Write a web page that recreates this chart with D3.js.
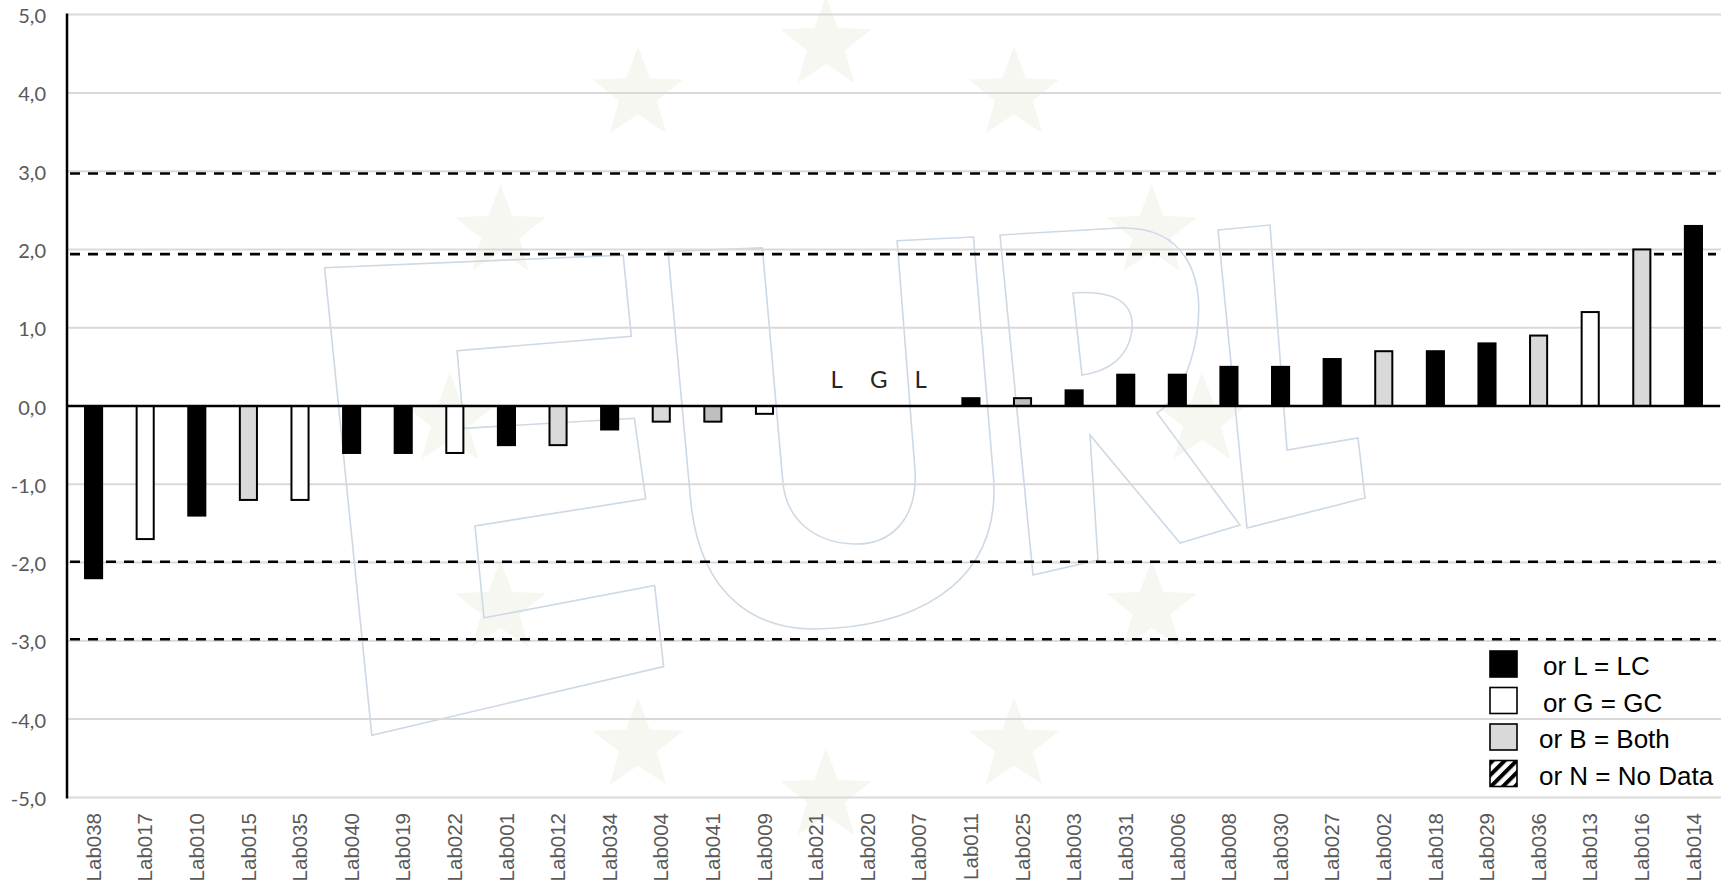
<!DOCTYPE html>
<html>
<head>
<meta charset="utf-8">
<script src="https://cdn.jsdelivr.net/npm/d3@7"></script>
<style>
  html, body { margin: 0; padding: 0; background: #ffffff; }
  svg { display: block; }
</style>
</head>
<body>
<div id="chart"></div>
<script>
// ---------------- DATA ----------------
const labs = ["Lab038","Lab017","Lab010","Lab015","Lab035","Lab040","Lab019","Lab022","Lab001","Lab012",
              "Lab034","Lab004","Lab041","Lab009","Lab021","Lab020","Lab007","Lab011","Lab025","Lab003",
              "Lab031","Lab006","Lab008","Lab030","Lab027","Lab002","Lab018","Lab029","Lab036","Lab013",
              "Lab016","Lab014"];
const zScores = [-2.2,-1.7,-1.4,-1.2,-1.2,-0.6,-0.6,-0.6,-0.5,-0.5,
                 -0.3,-0.2,-0.2,-0.1,null,null,null,0.1,0.1,0.2,
                 0.4,0.4,0.5,0.5,0.6,0.7,0.7,0.8,0.9,1.2,
                 2.0,2.3];
const methods = ["L","G","L","B","G","L","L","G","L","B",
                 "L","B","B","G","L","G","L","L","B","L",
                 "L","L","L","L","L","B","L","L","B","G",
                 "B","L"];
const yTicks = [-5,-4,-3,-2,-1,0,1,2,3,4,5];
const limitLines = [2.97, 1.94, -1.99, -2.98];
const legendCodes = ["L","G","B","N"];
const legendLabels = ["or L = LC","or G = GC","or B = Both","or N = No Data"];

// ---------------- STYLE ----------------
const W = 1733, H = 885;
const fillFor = {L:"#000000", G:"#ffffff", B:"#d9d9d9", N:"url(#hatch)"};
const altShade = new Set(["Lab041","Lab025"]);   // slightly darker grey in the original

const svg = d3.select("#chart").append("svg")
  .attr("width", W).attr("height", H)
  .attr("viewBox", `0 0 ${W} ${H}`);

const defs = svg.append("defs");
const pat = defs.append("pattern").attr("id","hatch")
  .attr("patternUnits","userSpaceOnUse").attr("width",8.5).attr("height",8.5)
  .attr("patternTransform","rotate(45)");
pat.append("rect").attr("width",8.5).attr("height",8.5).attr("fill","#fff");
pat.append("rect").attr("width",4).attr("height",8.5).attr("fill","#000");

svg.append("rect").attr("width",W).attr("height",H).attr("fill","#fff");

const y = d3.scaleLinear().domain([-5,5]).range([797.4, 14.6]);
const x = d3.scaleBand().domain(labs).range([67,1720]).paddingInner(0.63).paddingOuter(0.33);
const xc = l => x(l) + x.bandwidth()/2;

// ---------------- WATERMARK (background image of the original) ----------------
const wm = svg.append("g").attr("class","watermark");
function starPath(cx, cy, R, r) {
  const pts = [];
  for (let i = 0; i < 10; i++) {
    const a = -Math.PI/2 + i*Math.PI/5;
    const rad = i % 2 === 0 ? R : r;
    pts.push([cx + rad*Math.cos(a), cy + rad*Math.sin(a)]);
  }
  return "M" + pts.map(p => p.join(",")).join("L") + "Z";
}
const starCx = 826, starCy = 420, starRing = 376;
d3.range(12).forEach(i => {
  const a = i * Math.PI/6;
  wm.append("path")
    .attr("d", starPath(starCx + starRing*Math.sin(a), starCy - starRing*Math.cos(a), 48, 20))
    .attr("fill", "#f7f7f2");
});
const letterPaths = [
  // E
  "M324.6,267.7 L623.2,255.1 L631.3,336.3 L457.1,350.8 L463.8,428.4 L634.4,418.3 L645.7,498.8 L475,525.9 L484,617.9 L654.6,585.4 L663.6,666.6 L371.8,735.2 Z",
  // U
  "M668,251.5 L690.6,500 C700,600 760,630 816,629 C905,628 1000,590 993.7,480 L973.5,237 L897.1,240.7 L915,470 C918,520 890,545 854.5,544 C815,543 785,520 782.6,479 L762.4,247.9 Z",
  // R
  "M1000,235 L1120,228 C1185,226 1205,275 1197,333 C1190,380 1170,405 1157,413 L1240,525 L1180,543 L1090,435 L1098,560 L1033,575 Z M1073,293 C1110,290 1135,300 1132,330 C1128,360 1105,372 1082,375 Z",
  // L
  "M1218,230 L1270,225 L1287,450 L1358,438 L1365,498 L1247,528 Z"
];
letterPaths.forEach(d => wm.append("path").attr("d", d)
  .attr("fill","none").attr("stroke","#cdd9e5").attr("stroke-width",1.6));

// ---------------- GRID ----------------
svg.append("g").selectAll("line").data(yTicks).join("line")
  .attr("x1", 67).attr("x2", 1721)
  .attr("y1", d => y(d)).attr("y2", d => y(d))
  .attr("stroke", "#d9d9d9").attr("stroke-width", 2);

// ---------------- LIMIT LINES ----------------
svg.append("g").selectAll("line").data(limitLines).join("line")
  .attr("x1", 70).attr("x2", 1716)
  .attr("y1", d => y(d)).attr("y2", d => y(d))
  .attr("stroke", "#000").attr("stroke-width", 2.6)
  .attr("stroke-dasharray", "10,8");

// ---------------- BARS ----------------
const barData = labs.map((l,i) => ({lab:l, v:zScores[i], m:methods[i]}));
svg.append("g").selectAll("rect").data(barData.filter(d => d.v !== null)).join("rect")
  .attr("x", d => x(d.lab) + 1)
  .attr("width", x.bandwidth() - 2)
  .attr("y", d => Math.min(y(d.v), y(0)))
  .attr("height", d => Math.abs(y(d.v) - y(0)))
  .attr("fill", d => (d.m === "B" && altShade.has(d.lab)) ? "#bfbfbf" : fillFor[d.m])
  .attr("stroke", "#000").attr("stroke-width", 2);

// method letters for labs without a score
const noData = barData.filter(d => d.v === null);
const midX = xc(noData[1].lab) + 11;
svg.append("g").selectAll("text").data(noData).join("text")
  .attr("x", (d,i) => midX + (i-1)*42)
  .attr("y", y(0) - 18)
  .attr("text-anchor","middle")
  .attr("font-family","Lato, 'Open Sans', sans-serif")
  .attr("font-size", 24)
  .attr("fill","#262626")
  .text(d => d.m);

// ---------------- AXES ----------------
svg.append("line").attr("x1",67).attr("x2",1720).attr("y1",y(0)).attr("y2",y(0))
  .attr("stroke","#000").attr("stroke-width",2.5);
svg.append("line").attr("x1",67).attr("x2",67).attr("y1",y(5)-1).attr("y2",y(-5)+1)
  .attr("stroke","#000").attr("stroke-width",2.5);

const fmt = d3.format(".1f");
const yAxis = d3.axisLeft(y).tickValues(yTicks).tickSize(0).tickPadding(0)
  .tickFormat(d => fmt(d).replace(".", ",").replace("−","-"));
const gy = svg.append("g").attr("transform","translate(46,0)").call(yAxis);
gy.select(".domain").remove();
gy.selectAll("text")
  .attr("font-family","Lato, 'Open Sans', sans-serif")
  .attr("font-size", 20)
  .attr("fill","#595959")
  .attr("dy","0.4em");

const xAxis = d3.axisBottom(x).tickSize(0).tickPadding(0);
const gx = svg.append("g").attr("transform","translate(0,813)").call(xAxis);
gx.select(".domain").remove();
gx.selectAll("text")
  .attr("font-family","'Liberation Sans', Arial, sans-serif")
  .attr("font-size", 20.5)
  .attr("fill","#595959")
  .attr("text-anchor","end")
  .attr("transform","rotate(-90)")
  .attr("x", 0).attr("y", 0)
  .attr("dy","0.35em");

// ---------------- LEGEND ----------------
const lg = svg.append("g").selectAll("g").data(legendCodes).join("g")
  .attr("transform", (d,i) => `translate(1490, ${651 + i*36.5})`);
lg.append("rect").attr("width",27).attr("height",26)
  .attr("fill", d => fillFor[d]).attr("stroke","#000").attr("stroke-width",1.6);
lg.append("text")
  .attr("x", (d,i) => i < 2 ? 53 : 49)
  .attr("y", 24)
  .attr("font-family","'Liberation Sans', Arial, sans-serif")
  .attr("font-size", 26)
  .attr("fill","#000")
  .text((d,i) => legendLabels[i]);
</script>
</body>
</html>
